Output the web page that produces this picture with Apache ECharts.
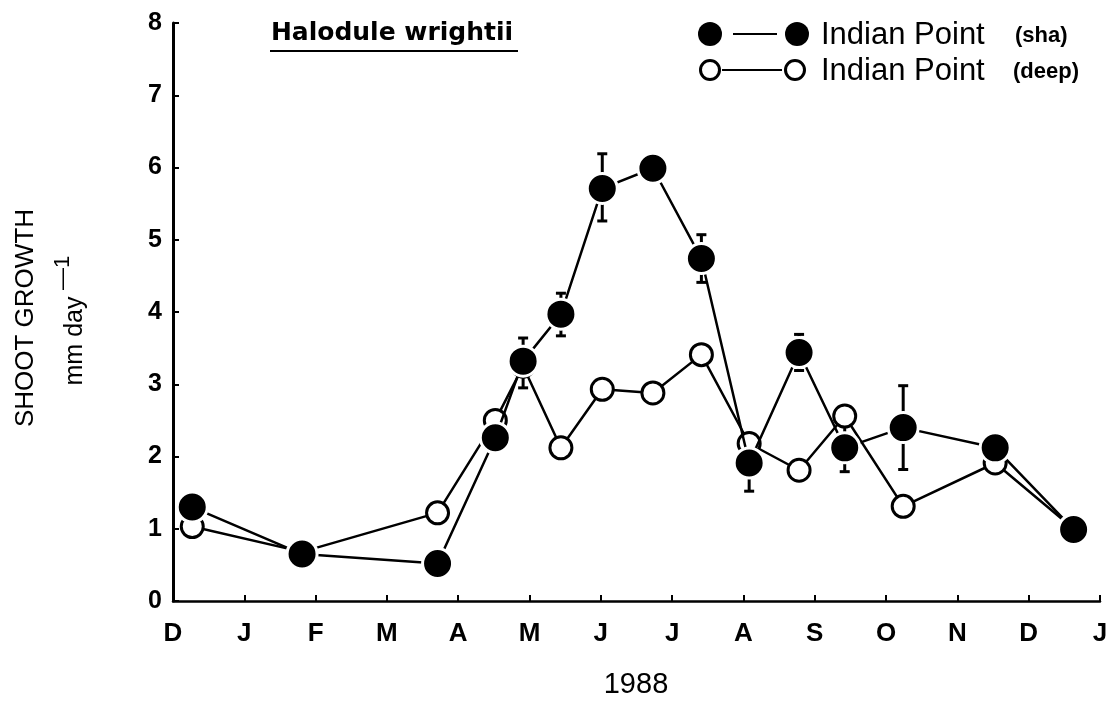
<!DOCTYPE html>
<html>
<head>
<meta charset="utf-8">
<script src="https://cdn.jsdelivr.net/npm/echarts@6/dist/echarts.min.js"></script>
<style>
html,body{margin:0;padding:0;background:#fff;}
#chart{width:1117px;height:706px;}
</style>
</head>
<body>
<div id="chart"></div>
<script>
// Month labels (x ticks, 0 = start of Dec 1987 ... 13 = start of Jan 1989)
var monthLabels = ['D','J','F','M','A','M','J','J','A','S','O','N','D','J'];
// Sampling dates (months since Dec 1, 1987)
var sampleMonths = [0.27, 1.81, 3.71, 4.52, 4.91, 5.44, 6.02, 6.73, 7.41, 8.08, 8.78, 9.42, 10.24, 11.53, 12.63];
// Indian Point (shallow) shoot growth, mm/day
var shallowValues = [1.30, 0.65, 0.52, 2.26, 3.32, 3.97, 5.71, 5.99, 4.74, 1.91, 3.44, 2.12, 2.40, 2.12, 0.99];
// Indian Point (deep) shoot growth, mm/day
var deepValues = [1.03, 0.68, 1.22, 2.50, 3.25, 2.12, 2.93, 2.88, 3.41, 2.18, 1.81, 2.56, 1.31, 1.91, 1.00];
// Error bar limits for shallow series
var errHigh = [null, null, null, null, 3.64, 4.26, 6.19, null, 5.07, 2.28, 3.69, 2.47, 2.98, null, null];
var errLow  = [null, null, null, null, 2.95, 3.67, 5.26, null, 4.41, 1.52, 3.19, 1.79, 1.82, null, null];
var yTicks = [0, 1, 2, 3, 4, 5, 6, 7, 8];

var shallowData = sampleMonths.map(function (m, i) { return [m, shallowValues[i]]; });
var deepData = sampleMonths.map(function (m, i) { return [m, deepValues[i]]; });
var errData = [];
sampleMonths.forEach(function (m, i) {
  if (errHigh[i] != null) errData.push([m, errLow[i], errHigh[i]]);
});

var chart = echarts.init(document.getElementById('chart'));
var FONT = 'Liberation Sans, Arial, sans-serif';

var option = {
  backgroundColor: '#fff',
  animation: false,
  grid: { left: 173, right: 17, top: 23, bottom: 105, containLabel: false },
  xAxis: {
    type: 'value', min: 0, max: 13, interval: 1,
    splitLine: { show: false },
    axisLine: { show: true, onZero: false, lineStyle: { color: '#000', width: 2.5 } },
    axisTick: { show: true, inside: true, length: 6, lineStyle: { color: '#000', width: 2 } },
    axisLabel: {
      margin: 20, color: '#000', fontFamily: 'Liberation Sans Narrow, ' + FONT, fontWeight: 'bold', fontSize: 26,
      formatter: function (v) { return monthLabels[Math.round(v)] || ''; }
    }
  },
  yAxis: {
    type: 'value', min: yTicks[0], max: yTicks[yTicks.length - 1], interval: 1,
    splitLine: { show: false },
    axisLine: { show: true, lineStyle: { color: '#000', width: 3 } },
    axisTick: { show: true, inside: true, length: 6, lineStyle: { color: '#000', width: 2 } },
    axisLabel: { margin: 11, color: '#000', fontFamily: FONT, fontWeight: 'bold', fontSize: 25 }
  },
  series: [
    {
      name: 'err', type: 'custom', z: 1,
      data: errData,
      renderItem: function (params, api) {
        var x = api.value(0);
        var lo = api.coord([x, api.value(1)]);
        var hi = api.coord([x, api.value(2)]);
        var hw = 5;
        return {
          type: 'group',
          children: [
            { type: 'line', shape: { x1: lo[0], y1: lo[1], x2: hi[0], y2: hi[1] }, style: { stroke: '#000', lineWidth: 3 } },
            { type: 'line', shape: { x1: hi[0] - hw, y1: hi[1], x2: hi[0] + hw, y2: hi[1] }, style: { stroke: '#000', lineWidth: 3 } },
            { type: 'line', shape: { x1: lo[0] - hw, y1: lo[1], x2: lo[0] + hw, y2: lo[1] }, style: { stroke: '#000', lineWidth: 3 } }
          ]
        };
      }
    },
    {
      name: 'Indian Point (deep)', type: 'line', z: 2,
      data: deepData,
      symbol: 'circle', symbolSize: 22,
      lineStyle: { color: '#000', width: 2.5 },
      itemStyle: { color: '#fff', borderColor: '#000', borderWidth: 3 }
    },
    {
      name: 'Indian Point (sha)', type: 'line', z: 3,
      data: shallowData,
      symbol: 'circle', symbolSize: 30,
      lineStyle: { color: '#000', width: 2.5 },
      itemStyle: { color: '#000', borderColor: '#fff', borderWidth: 3 }
    }
  ],
  graphic: [
    { type: 'text', x: 392, y: 33, style: { text: 'Halodule wrightii', font: 'bold 25px DejaVu Sans, ' + FONT, fill: '#000', align: 'center', verticalAlign: 'middle' } },
    { type: 'line', shape: { x1: 270, y1: 51, x2: 518, y2: 51 }, style: { stroke: '#000', lineWidth: 2 } },
    // legend row 1
    { type: 'circle', shape: { cx: 710, cy: 34, r: 12 }, style: { fill: '#000' } },
    { type: 'line', shape: { x1: 733, y1: 34, x2: 777, y2: 34 }, style: { stroke: '#000', lineWidth: 2 } },
    { type: 'circle', shape: { cx: 797, cy: 34, r: 12 }, style: { fill: '#000' } },
    { type: 'text', x: 821, y: 35, style: { text: 'Indian Point', font: '31px ' + FONT, fill: '#000', verticalAlign: 'middle' } },
    { type: 'text', x: 1015, y: 36, style: { text: '(sha)', font: 'bold 22px ' + FONT, fill: '#000', verticalAlign: 'middle' } },
    // legend row 2
    { type: 'circle', shape: { cx: 710, cy: 70, r: 9.5 }, style: { fill: '#fff', stroke: '#000', lineWidth: 3 } },
    { type: 'line', shape: { x1: 722, y1: 70, x2: 782, y2: 70 }, style: { stroke: '#000', lineWidth: 2 } },
    { type: 'circle', shape: { cx: 795, cy: 70, r: 9.5 }, style: { fill: '#fff', stroke: '#000', lineWidth: 3 } },
    { type: 'text', x: 821, y: 71, style: { text: 'Indian Point', font: '31px ' + FONT, fill: '#000', verticalAlign: 'middle' } },
    { type: 'text', x: 1013, y: 72, style: { text: '(deep)', font: 'bold 22px ' + FONT, fill: '#000', verticalAlign: 'middle' } },
    // axis titles
    { type: 'text', x: 26, y: 318, rotation: Math.PI / 2, style: { text: 'SHOOT GROWTH', font: '26px ' + FONT, fill: '#000', align: 'center', verticalAlign: 'middle' } },
    { type: 'text', x: 75, y: 341, rotation: Math.PI / 2, style: { text: 'mm day', font: '25px ' + FONT, fill: '#000', align: 'center', verticalAlign: 'middle' } },
    { type: 'text', x: 63, y: 273, rotation: Math.PI / 2, style: { text: '\u20141', font: '22px ' + FONT, fill: '#000', align: 'center', verticalAlign: 'middle' } },
    { type: 'text', x: 636, y: 685, style: { text: '1988', font: '29px ' + FONT, fill: '#000', align: 'center', verticalAlign: 'middle' } }
  ]
};
chart.setOption(option);
</script>
</body>
</html>
